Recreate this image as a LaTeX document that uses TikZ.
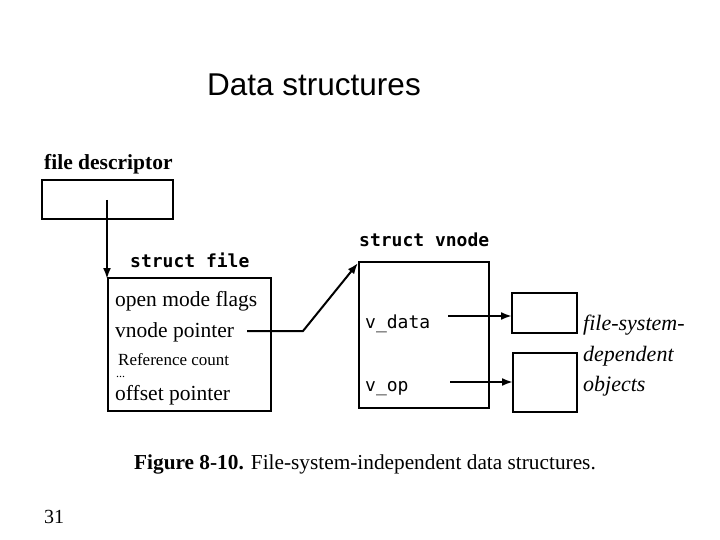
\documentclass[tikz,border=0pt]{standalone}
\usepackage{fontspec}
\setmainfont{Liberation Serif}
\setsansfont{Liberation Sans}
\setmonofont{DejaVu Sans Mono}
\usetikzlibrary{arrows.meta}
\begin{document}
\begin{tikzpicture}[x=1pt,y=-1pt,
  box/.style={draw,line width=2pt},
  lbl/.style={anchor=base west,inner sep=0pt},
  arr/.style={line width=2pt,-{Latex[length=11pt,width=8pt]}},
  body/.style={lbl,font=\fontsize{21.5}{24}\selectfont},
  head/.style={lbl,font=\fontsize{18}{20}\selectfont\ttfamily\bfseries},
  code/.style={lbl,font=\fontsize{18}{20}\selectfont\ttfamily},
  ital/.style={lbl,font=\fontsize{22}{24}\selectfont\itshape}]
\useasboundingbox (0,0) rectangle (720,540);
\fill[white] (0,0) rectangle (720,540);
% title
\node[anchor=base,inner sep=0pt,font=\fontsize{31.5}{34}\selectfont\sffamily] (title) at (314,96) {Data structures};
% file descriptor
\node[lbl,font=\fontsize{21.5}{24}\selectfont\bfseries] (fdlbl) at (44,170) {file descriptor};
\draw[box] (42,180) rectangle (173,219);
\coordinate (fdsrc) at (107,200);
% struct file
\node[head] (sflbl) at (130,267) {struct file};
\draw[box] (108,278) rectangle (271,411);
\coordinate (sftop) at (107,279);
\draw[arr] (fdsrc) -- (sftop);
\node[body] (omf) at (115,306) {open mode flags};
\node[body] (vnp) at (115,337) {vnode pointer};
\node[lbl,font=\fontsize{17}{20}\selectfont] (rc) at (118,365) {Reference count};
\node[lbl,font=\fontsize{12}{14}\selectfont] (dots) at (116,377) {...};
\node[body] (ofp) at (115,400) {offset pointer};
% struct vnode
\node[head] (svlbl) at (359,247) {struct vnode};
\draw[box] (359,262) rectangle (489,408);
\coordinate (vnstart) at (247,331);
\coordinate (vnbend) at (303,331);
\coordinate (vntop) at (358,263);
\draw[arr] (vnstart) -- (vnbend) -- (vntop);
\node[code] (vdata) at (365,328) {v\_data};
\node[code] (vop) at (365,391) {v\_op};
% fs-dependent objects
\draw[box] (512,293) rectangle (577,333);
\draw[box] (513,353) rectangle (577,412);
\coordinate (a1s) at (448,316);
\coordinate (a1e) at (512,316);
\coordinate (a2s) at (450,382);
\coordinate (a2e) at (513,382);
\draw[arr] (a1s) -- (a1e);
\draw[arr] (a2s) -- (a2e);
\node[ital] (fs1) at (583,330) {file-system-};
\node[ital] (fs2) at (583,361) {dependent};
\node[ital] (fs3) at (583,391) {objects};
% caption
\node[lbl,font=\fontsize{21.3}{24}\selectfont] (cap) at (134,469) {\textbf{Figure 8-10.} File-system-independent data structures.};
% page number
\node[lbl,font=\fontsize{20}{24}\selectfont] (pg) at (44,523) {31};
\end{tikzpicture}
\end{document}
